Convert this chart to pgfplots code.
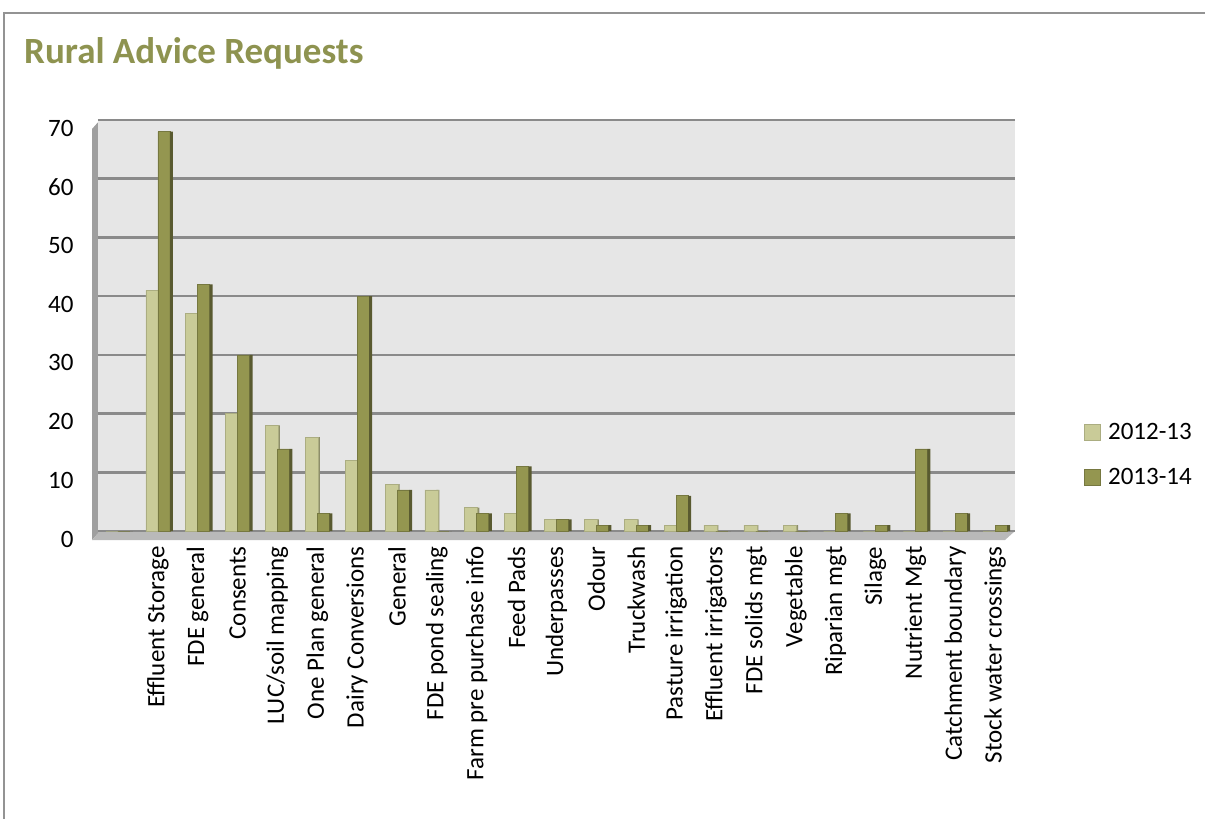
\documentclass[border=0pt]{standalone}
\usepackage{pgfplots}
\pgfplotsset{compat=1.18}
\usepackage{fontspec}
\setmainfont{Carlito}
\definecolor{light}{HTML}{C9CB98}
\definecolor{dark}{HTML}{949650}
\definecolor{titlec}{HTML}{8E9350}
\definecolor{wallc}{HTML}{E6E6E6}
\definecolor{gridc}{HTML}{8A8A8A}
\begin{document}
\begin{tikzpicture}
\path[use as bounding box] (0pt,0pt) rectangle (1205pt,-819pt);
\draw[gray!85, line width=1.5pt] (4pt,-819pt) -- (4pt,-13pt) -- (1205pt,-13pt);
\node[anchor=base west, font=\fontsize{37}{42}\selectfont\bfseries, text=titlec, inner sep=0pt] at (24pt,-63pt) {Rural Advice Requests};
% left wall and floor
\fill[gray!75] (92pt,-540pt) -- (92pt,-129pt) -- (100pt,-120pt) -- (100pt,-531pt) -- cycle;
\fill[gray!55] (92pt,-540pt) -- (1005pt,-540pt) -- (1015pt,-531pt) -- (100pt,-531pt) -- cycle;
\begin{axis}[
  at={(98pt,-531pt)}, anchor=south west,
  scale only axis, width=917pt, height=411pt,
  ybar=0pt, bar width=13pt,
  ymin=0, ymax=70, xmin=-0.5, xmax=22.5,
  ytick={0,10,...,70},
  xtick={0,...,22},
  xticklabels={{},Effluent Storage,FDE general,Consents,LUC/soil mapping,One Plan general,Dairy Conversions,General,FDE pond sealing,Farm pre purchase info,Feed Pads,Underpasses,Odour,Truckwash,Pasture irrigation,Effluent irrigators,FDE solids mgt,Vegetable,Riparian mgt,Silage,Nutrient Mgt,Catchment boundary,Stock water crossings},
  major tick length=0pt,
  axis line style={draw=none},
  axis background/.style={fill=wallc},
  ymajorgrids, grid style={gridc, line width=2.6pt},
  /pgf/number format/assume math mode=true,
  tick label style={font=\fontsize{25}{30}\selectfont},
  yticklabel style={xshift=-21pt, yshift=-8pt},
  xticklabel style={yshift=-12pt, rotate=90, anchor=east},
  legend style={draw=none, fill=none, at={(1.0745,0.185)}, anchor=west,
    font=\fontsize{25}{30}\selectfont, row sep=27pt, inner sep=0pt,
    nodes={inner sep=0pt}},
  legend cell align=left,
  legend image code/.code={\fill[#1] (0pt,-8pt) rectangle (16pt,8pt); \path (24pt,0pt);},
  clip=false,
]
% light side faces
\addplot[fill=light!70!black, draw=none, bar width=3pt, bar shift=1pt, forget plot] coordinates {
(0,0) (1,41) (2,37) (3,20) (4,18) (5,16) (6,12) (7,8) (8,7) (9,4) (10,3) (11,2) (12,2) (13,2) (14,1) (15,1) (16,1) (17,1) (18,0) (19,0) (20,0) (21,0) (22,0)};
\addplot[fill=light, draw=light!85!black, line width=0.6pt, bar shift=-5.5pt, bar width=13pt] coordinates {
(0,0) (1,41) (2,37) (3,20) (4,18) (5,16) (6,12) (7,8) (8,7) (9,4) (10,3) (11,2) (12,2) (13,2) (14,1) (15,1) (16,1) (17,1) (18,0) (19,0) (20,0) (21,0) (22,0)};
\addlegendentry{2012-13}
\addplot[fill=dark, draw=dark!80!black, line width=0.6pt, bar shift=6pt, bar width=12pt] coordinates {
(0,0) (1,68) (2,42) (3,30) (4,14) (5,3) (6,40) (7,7) (8,0) (9,3) (10,11) (11,2) (12,1) (13,1) (14,6) (15,0) (16,0) (17,0) (18,3) (19,1) (20,14) (21,3) (22,1)};
\addlegendentry{2013-14}
% dark side faces
\addplot[fill=dark!60!black, draw=none, bar width=3pt, bar shift=13.5pt, forget plot] coordinates {
(0,0) (1,68) (2,42) (3,30) (4,14) (5,3) (6,40) (7,7) (8,0) (9,3) (10,11) (11,2) (12,1) (13,1) (14,6) (15,0) (16,0) (17,0) (18,3) (19,1) (20,14) (21,3) (22,1)};
\end{axis}
\end{tikzpicture}
\end{document}
